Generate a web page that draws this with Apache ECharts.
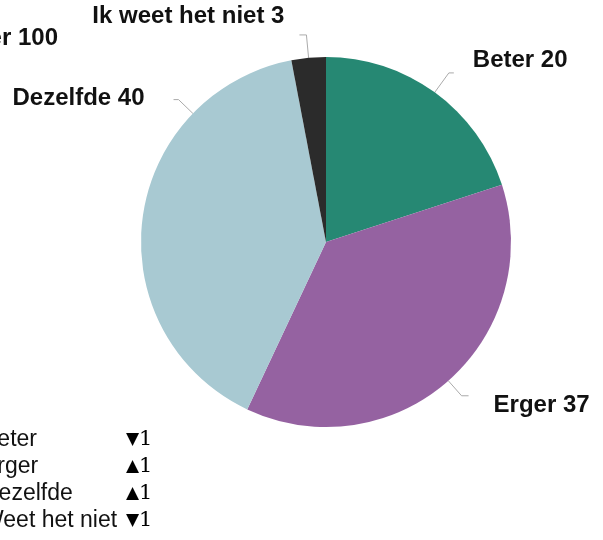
<!DOCTYPE html>
<html>
<head>
<meta charset="utf-8">
<script src="https://cdn.jsdelivr.net/npm/echarts@6/dist/echarts.min.js"></script>
<style>
html, body { margin: 0; padding: 0; background: #fff; }
#main { width: 603px; height: 540px; }
</style>
</head>
<body>
<div id="main"></div>
<script>
// data
var categories = ['Beter', 'Erger', 'Dezelfde', 'Ik weet het niet'];
var values = [20, 37, 40, 3];
var colors = ['#268873', '#9562a1', '#a8c9d2', '#2b2b2b'];
// lijstje linksonder
var legendNames = ['Beter', 'Erger', 'Dezelfde', 'Weet het niet'];
var legendChange = [-1, 1, 1, -1];

var total = values.reduce(function (a, b) { return a + b; }, 0);

var pieCenter = [326, 242];
var pieRadius = 185;

// lijnlengtes per label en verschuiving van de tekst t.o.v. het lijneinde
var lineLen = [24, 20, 20, 23];
var lineLen2 = [5, 7, 5, 7];
var labelShift = [[14, -13], [20, 10], [0, 0], [-10, -19]];

var labelFont = '"Liberation Sans", Arial, sans-serif';

var pieData = [];
for (let i = 0; i < categories.length; i++) {
  pieData.push({
    name: categories[i],
    value: values[i],
    itemStyle: { color: colors[i] },
    labelLine: { length: lineLen[i], length2: lineLen2[i] }
  });
}

var graphics = [];
// afgesneden totaal linksboven
graphics.push({
  type: 'text',
  x: 58,
  y: 38,
  style: {
    text: 'Antwoorden per ' + total,
    align: 'right', verticalAlign: 'middle',
    textAlign: 'right', textVerticalAlign: 'middle',
    font: 'bold 24px ' + labelFont,
    fill: '#111'
  }
});
for (let i = 0; i < legendNames.length; i++) {
  var y = 440 + 27 * i;
  graphics.push({
    type: 'text',
    x: -18,
    y: y,
    style: {
      text: legendNames[i],
      align: 'left', verticalAlign: 'middle',
      textAlign: 'left', textVerticalAlign: 'middle',
      font: '23px ' + labelFont,
      fill: '#111'
    }
  });
  graphics.push({
    type: 'text',
    x: 126,
    y: y,
    style: {
      text: '{t|' + (legendChange[i] < 0 ? '▼' : '▲') + '}{n|' + Math.abs(legendChange[i]) + '}',
      align: 'left', verticalAlign: 'middle',
      textAlign: 'left', textVerticalAlign: 'middle',
      rich: {
        t: { fontSize: 17, fontFamily: 'DejaVu Sans', color: '#333' },
        n: { fontSize: 21, fontFamily: 'DejaVu Serif', color: '#777' }
      }
    }
  });
}

// Dezelfde-label staat linksboven; lijn begint op de rand rond 314 graden
function dezelfdeLine() {
  var a = 314 * Math.PI / 180;
  var dx = Math.sin(a), dy = -Math.cos(a);
  var p0 = [pieCenter[0] + pieRadius * dx, pieCenter[1] + pieRadius * dy];
  var p1 = [p0[0] + lineLen[2] * dx, p0[1] + lineLen[2] * dy];
  var p2 = [p1[0] - lineLen2[2], p1[1]];
  return [p0, p1, p2];
}

var myChart = echarts.init(document.getElementById('main'));
var option = {
  animation: false,
  graphic: graphics,
  series: [{
    type: 'pie',
    center: pieCenter,
    radius: pieRadius,
    startAngle: 90,
    clockwise: true,
    avoidLabelOverlap: false,
    label: {
      show: true,
      position: 'outside',
      formatter: '{b} {c}',
      color: '#111',
      fontWeight: 'bold',
      fontSize: 24,
      fontFamily: labelFont
    },
    labelLine: {
      show: true,
      lineStyle: { color: '#aaa', width: 1 }
    },
    labelLayout: function (params) {
      var i = params.dataIndex;
      if (i === 2) {
        var pts = dezelfdeLine();
        return {
          x: pts[2][0] - 29,
          y: pts[2][1] - 1,
          align: 'right',
          verticalAlign: 'middle',
          labelLinePoints: pts
        };
      }
      return {
        dx: labelShift[i][0],
        dy: labelShift[i][1],
        labelLinePoints: params.labelLinePoints
      };
    },
    emphasis: { disabled: true },
    data: pieData
  }]
};
myChart.setOption(option);
</script>
</body>
</html>
